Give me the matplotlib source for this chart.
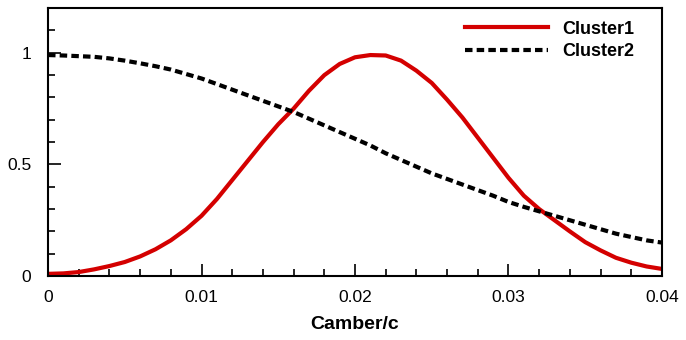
import matplotlib
matplotlib.use('Agg')
import matplotlib.pyplot as plt
from matplotlib.ticker import MultipleLocator, FormatStrFormatter

plt.rcParams['font.family'] = ['Liberation Sans', 'DejaVu Sans']

camber = [i * 0.001 for i in range(41)]

cluster1 = [0.010, 0.012, 0.018, 0.030, 0.045, 0.063, 0.088, 0.120, 0.160, 0.210,
            0.270, 0.345, 0.430, 0.515, 0.600, 0.680, 0.750, 0.830, 0.900, 0.950,
            0.980, 0.990, 0.988, 0.965, 0.920, 0.865, 0.790, 0.710, 0.620, 0.530,
            0.440, 0.360, 0.300, 0.250, 0.200, 0.152, 0.115, 0.082, 0.060, 0.043,
            0.032]

cluster2 = [0.990, 0.988, 0.985, 0.982, 0.975, 0.965, 0.953, 0.940, 0.925, 0.905,
            0.885, 0.860, 0.835, 0.810, 0.785, 0.760, 0.735, 0.705, 0.675, 0.645,
            0.615, 0.585, 0.550, 0.520, 0.490, 0.460, 0.435, 0.410, 0.385, 0.360,
            0.332, 0.310, 0.290, 0.270, 0.250, 0.230, 0.210, 0.190, 0.175, 0.160,
            0.150]

fig = plt.figure(figsize=(6.86, 3.4), dpi=100)
ax = fig.add_axes([0.070, 0.188, 0.895, 0.788])

ax.plot(camber, cluster1, color='#d40000', lw=3, label='Cluster1')
ax.plot(camber, cluster2, color='black', lw=3, dashes=(1.8, 1.0), label='Cluster2')

ax.set_xlim(0, 0.04)
ax.set_ylim(0, 1.2)
ax.set_xticks([0, 0.01, 0.02, 0.03, 0.04])
ax.xaxis.set_major_formatter(FormatStrFormatter('%g'))
ax.xaxis.set_minor_locator(MultipleLocator(0.002))
ax.set_yticks([0, 0.5, 1])
ax.yaxis.set_major_formatter(FormatStrFormatter('%g'))
ax.yaxis.set_minor_locator(MultipleLocator(0.1))
ax.tick_params(which='both', direction='in', top=False, right=False,
               width=1.2, labelsize=12.5)
ax.tick_params(axis='x', pad=10)
ax.tick_params(axis='y', pad=12)
ax.tick_params(which='major', length=9)
ax.tick_params(which='minor', length=5)
for s in ax.spines.values():
    s.set_linewidth(1.5)

ax.set_xlabel('Camber/c', fontsize=14, fontweight='bold', labelpad=8)

leg = ax.legend(loc='upper right', frameon=False, handlelength=4.6,
                prop={'weight': 'bold', 'size': 13}, borderaxespad=0.3,
                labelspacing=0.3, handletextpad=0.8,
                bbox_to_anchor=(0.975, 1.0))

fig.savefig('out.png', dpi=100)
